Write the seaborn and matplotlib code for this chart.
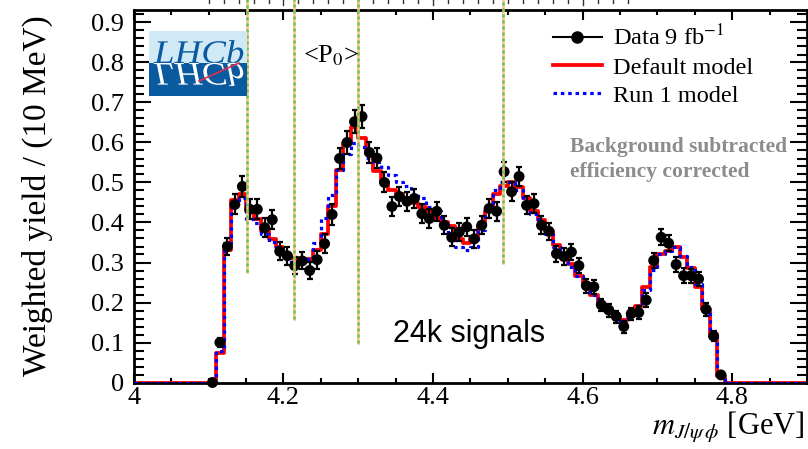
import numpy as np
import pandas as pd
import matplotlib
matplotlib.use("Agg")
import matplotlib.pyplot as plt
import seaborn as sns
from matplotlib.lines import Line2D
from matplotlib.ticker import MultipleLocator, FuncFormatter
from matplotlib.textpath import TextPath
from matplotlib.patches import PathPatch, Rectangle
from matplotlib.font_manager import FontProperties
from matplotlib.transforms import Affine2D, blended_transform_factory

# --- data: 10 MeV bins, centres 4.105 ... 4.785 GeV ---
bin_centres = np.round(np.arange(4.105, 4.7851, 0.01), 3)
bin_edges = list(np.round(np.arange(4.0, 4.9001, 0.01), 3))

data_yield = [0.00, 0.10, 0.34, 0.445, 0.49, 0.433, 0.433, 0.387, 0.407, 0.328,
              0.317, 0.292, 0.304, 0.280, 0.307, 0.347, 0.420, 0.560, 0.600, 0.652,
              0.665, 0.575, 0.561, 0.500, 0.440, 0.465, 0.453, 0.460, 0.422, 0.410,
              0.428, 0.393, 0.363, 0.376, 0.389, 0.359, 0.393, 0.435, 0.428, 0.527,
              0.477, 0.515, 0.443, 0.447, 0.393, 0.378, 0.322, 0.315, 0.326, 0.292,
              0.242, 0.239, 0.194, 0.181, 0.165, 0.140, 0.172, 0.175, 0.206, 0.305,
              0.363, 0.348, 0.295, 0.267, 0.267, 0.259, 0.183, 0.116, 0.019]
data_err = [0.000, 0.012, 0.022, 0.025, 0.026, 0.025, 0.025, 0.024, 0.024, 0.022,
            0.022, 0.021, 0.021, 0.021, 0.022, 0.023, 0.025, 0.027, 0.028, 0.028,
            0.028, 0.026, 0.026, 0.025, 0.024, 0.024, 0.024, 0.024, 0.023, 0.023,
            0.023, 0.022, 0.022, 0.022, 0.022, 0.022, 0.022, 0.023, 0.023, 0.025,
            0.024, 0.024, 0.023, 0.023, 0.022, 0.021, 0.020, 0.020, 0.020, 0.019,
            0.018, 0.018, 0.016, 0.016, 0.015, 0.015, 0.015, 0.016, 0.017, 0.019,
            0.020, 0.020, 0.019, 0.019, 0.018, 0.018, 0.016, 0.013, 0.006]
default_model = [0.00, 0.075, 0.33, 0.455, 0.47, 0.43, 0.41, 0.38, 0.36, 0.34,
                 0.32, 0.31, 0.30, 0.31, 0.33, 0.37, 0.44, 0.53, 0.60, 0.64,
                 0.61, 0.57, 0.53, 0.50, 0.48, 0.47, 0.46, 0.45, 0.44, 0.43,
                 0.41, 0.40, 0.39, 0.36, 0.35, 0.36, 0.39, 0.43, 0.47, 0.49,
                 0.50, 0.49, 0.46, 0.43, 0.405, 0.38, 0.345, 0.32, 0.296, 0.267,
                 0.246, 0.22, 0.196, 0.179, 0.165, 0.155, 0.17, 0.19, 0.24, 0.29,
                 0.32, 0.33, 0.338, 0.313, 0.285, 0.24, 0.185, 0.12, 0.015]
run1_model = [0.00, 0.08, 0.35, 0.45, 0.46, 0.41, 0.40, 0.37, 0.35, 0.33,
              0.31, 0.30, 0.30, 0.31, 0.35, 0.41, 0.47, 0.53, 0.57, 0.60,
              0.59, 0.56, 0.55, 0.54, 0.52, 0.50, 0.49, 0.47, 0.46, 0.44,
              0.43, 0.40, 0.37, 0.34, 0.33, 0.34, 0.38, 0.44, 0.48, 0.50,
              0.50, 0.48, 0.45, 0.42, 0.40, 0.37, 0.34, 0.315, 0.29, 0.265,
              0.24, 0.22, 0.195, 0.18, 0.165, 0.15, 0.17, 0.19, 0.23, 0.28,
              0.32, 0.33, 0.34, 0.315, 0.29, 0.245, 0.185, 0.12, 0.015]

# vertical marker lines (mass, lower end)
state_mass = [4.151, 4.214, 4.300, 4.493]
state_low = [0.276, 0.158, 0.098, 0.298]

# cropped ruler of the panel above (tick positions)
ruler_ticks = np.round(np.arange(4.10, 4.661, 0.02), 2)

df = pd.DataFrame({'m': bin_centres, 'data': data_yield, 'err': data_err,
                   'default': default_model, 'run1': run1_model})

W, H = 808, 449
plt.rcParams['font.family'] = ['Liberation Serif', 'DejaVu Serif']
plt.rcParams['mathtext.fontset'] = 'stix'

fig = plt.figure(figsize=(W / 100, H / 100), dpi=100)
ax = fig.add_axes([133.9 / W, 1 - 382.5 / H, (807 - 133.9) / W, (382.5 - 10.5) / H])

# --- models as step histograms ---
sns.histplot(data=df, x='m', weights='default', bins=bin_edges, element='step',
             fill=False, color='#ff0000', linewidth=2.7, ax=ax, zorder=2)
sns.histplot(data=df, x='m', weights='run1', bins=bin_edges, element='step',
             fill=False, color='#0000ff', linewidth=2.3, linestyle=(0, (1.1, 1.2)),
             ax=ax, zorder=3)

# --- data ---
ax.errorbar(df['m'], df['data'], yerr=df['err'], fmt='none', ecolor='black',
            elinewidth=1.6, capsize=2.5, capthick=1.6, zorder=4)
sns.scatterplot(data=df, x='m', y='data', color='black', s=62, edgecolor='none',
                ax=ax, zorder=5, clip_on=False)

for m, lo in zip(state_mass, state_low):
    ax.plot([m, m], [lo, 0.96], color='#f2c68e', lw=1.8, clip_on=False, zorder=6)
    ax.plot([m, m], [lo, 0.96], color='#6cc24a', lw=1.8, ls=(0, (1.2, 1.2)),
            clip_on=False, zorder=7)

trans = blended_transform_factory(ax.transData, fig.transFigure)
for t in ruler_ticks:
    tall = abs(round(t * 10) - t * 10) < 1e-6 and round(t * 10) % 2 == 0
    ax.plot([t, t], [1.0, 1 - (4.5 if tall else 2.5) / H], color='#333333',
            lw=1.0, transform=trans, clip_on=False)

ax.set_xlim(4.0, 4.9)
ax.set_ylim(0, 0.93)
ax.set_xlabel('')
ax.set_ylabel('')
ax.xaxis.set_major_locator(MultipleLocator(0.2))
ax.xaxis.set_minor_locator(MultipleLocator(0.05))
ax.yaxis.set_major_locator(MultipleLocator(0.1))
ax.yaxis.set_minor_locator(MultipleLocator(0.02))
fmt = FuncFormatter(lambda v, p: f'{v:g}')
ax.xaxis.set_major_formatter(fmt)
ax.yaxis.set_major_formatter(fmt)
ax.tick_params(axis='both', which='both', direction='in', top=True, right=True,
               width=1.5, labelsize=19, colors='black')
ax.tick_params(axis='x', which='major', length=7, pad=3)
ax.tick_params(axis='x', which='minor', length=3.5)
ax.tick_params(axis='y', which='major', length=12, pad=7)
ax.tick_params(axis='y', which='minor', length=7)
for s in ax.spines.values():
    s.set_linewidth(2)
    s.set_color('black')

# --- labels ---
fig.text(37 / W, 1 - 196 / H, 'Weighted yield / (10 MeV)', rotation=90,
         ha='center', va='center', fontsize=24)
fig.text(805 / W, 1 - 435 / H, r'$m_{J/\psi\,\phi}$ [GeV]', ha='right',
         va='baseline', fontsize=22)
fig.text(331 / W, 1 - 62 / H, '<P$_0$>', fontsize=19, ha='center')
fig.text(570 / W, 1 - 152 / H, 'Background subtracted', color='#8c8c8c',
         fontsize=15.5, fontweight='bold')
fig.text(570 / W, 1 - 177 / H, 'efficiency corrected', color='#8c8c8c',
         fontsize=15.5, fontweight='bold')
fig.text(393 / W, 1 - 342 / H, '24k signals', family='Liberation Sans',
         fontsize=22, color='black')

# --- legend ---
handles = [Line2D([], [], color='black', marker='o', markersize=8, lw=1.5),
           Line2D([], [], color='#ff0000', lw=2.7),
           Line2D([], [], color='#0000ff', lw=2.3, ls=(0, (1.1, 1.2)))]
labels = ['Data 9 fb$^{-1}$', 'Default model', 'Run 1 model']
ax.legend(handles, labels, loc='upper left', bbox_to_anchor=(553 / W, 1 - 25 / H),
          bbox_transform=fig.transFigure, frameon=False, fontsize=17.5,
          handlelength=2.0, handletextpad=0.45, labelspacing=0.25, borderpad=0,
          borderaxespad=0)

# --- LHCb logo ---
lax = fig.add_axes([149 / W, 1 - 96 / H, 98 / W, 65 / H])
lax.set_xlim(0, 98)
lax.set_ylim(0, 65)
lax.axis('off')
split = 33
lax.add_patch(Rectangle((0, split), 98, 65 - split, color='#cfe9f6', lw=0))
lax.add_patch(Rectangle((0, 0), 98, split, color='#0a5aa0', lw=0))
tp = TextPath((0, 0), 'LHCb', size=33,
              prop=FontProperties(family='Liberation Serif', style='italic'))
top = Affine2D().scale(1.12, 1.0).translate(5, split)
bot = Affine2D().scale(1.12, -1.0).translate(5, split)
lax.add_patch(PathPatch(top.transform_path(tp), color='#0a5aa0', lw=0))
lax.add_patch(PathPatch(bot.transform_path(tp), color='white', lw=0))
lax.plot([50, 90], [15, 33], color='#e0304a', lw=1.2)

fig.savefig('out.png', dpi=100)
